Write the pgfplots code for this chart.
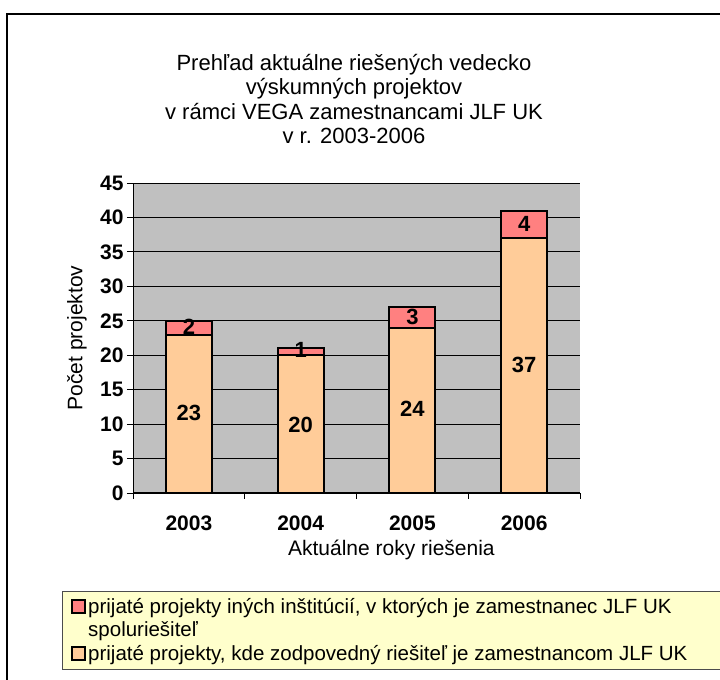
\documentclass[border=0pt]{standalone}
\usepackage{pgfplots}
\pgfplotsset{compat=1.18}
\usepackage{fontspec}
\setmainfont{Liberation Sans}
\definecolor{plotgray}{HTML}{C0C0C0}
\definecolor{barlow}{HTML}{FFCC99}
\definecolor{bartop}{HTML}{FF8080}
\definecolor{legbg}{HTML}{FFFFCC}
\newcommand{\fs}[2]{\fontsize{#1bp}{#2bp}\selectfont}
\pgfplotsset{
  common/.style={
    at={(133bp,187bp)}, anchor=south west,
    scale only axis, width=447bp, height=310bp,
    xmin=-0.5, xmax=3.5, ymin=0, ymax=45,
  }
}
\begin{document}
\begin{tikzpicture}
\begin{axis}[common,
  ybar stacked, bar width=46bp,
  axis background/.style={fill=plotgray},
  axis x line*=bottom, axis y line*=left,
  axis line style={black, line width=1bp},
  ymajorgrids, grid style={black, line width=0.8bp},
  ytick={0,5,...,45},
  xtick={-0.5,0.5,1.5,2.5,3.5}, xticklabels={},
  extra x ticks={0,1,2,3}, extra x tick labels={2003,2004,2005,2006},
  extra x tick style={major tick length=0pt, grid=none,
     xticklabel style={font=\fs{21}{24}\bfseries, yshift=-19bp}},
  tick align=outside, major tick length=6bp,
  tick style={black, line width=0.8bp},
  /pgf/number format/assume math mode=true,
  yticklabel style={font=\fs{21}{24}\bfseries},
  xlabel={Aktuálne roky riešenia},
  xlabel style={font=\fs{21}{24}, at={(axis description cs:0.578,-0.184)}, anchor=center},
  ylabel={Počet projektov},
  ylabel style={font=\fs{21}{24}, at={(axis description cs:-0.1253,0.5)}, anchor=center},
]
\addplot[fill=barlow, draw=black, line width=2bp] coordinates {(0,23) (1,20) (2,24) (3,37)};
\addplot[fill=bartop, draw=black, line width=2bp] coordinates {(0,2) (1,1) (2,3) (3,4)};
\end{axis}
\begin{axis}[common, hide axis,
  legend style={at={(-0.1588,-0.316)}, anchor=north west, fill=legbg,
    draw=gray!60!black, line width=0.8bp, font=\fs{20.5}{22},
    row sep=3bp, inner xsep=9bp, inner ysep=5bp},
  legend cell align=left,
  legend image code/.code={\draw[#1, line width=1.8bp] (0bp,-6bp) rectangle (13bp,7bp);},
]
\addplot[draw=none, forget plot, nodes near coords, nodes near coords align={center},
  point meta=explicit symbolic,
  every node near coord/.append style={font=\fs{22}{24}\bfseries, inner sep=0pt, anchor=center}]
  coordinates {(0,11.6)[23] (1,9.9)[20] (2,12.2)[24] (3,18.6)[37]
               (0,24.1)[2] (1,20.8)[1] (2,25.5)[3] (3,39.0)[4]};
\addlegendimage{fill=bartop, draw=black}
\addlegendentry{prijaté projekty iných inštitúcií, v ktorých je zamestnanec JLF UK}
\addlegendimage{empty legend}
\addlegendentry{spoluriešiteľ}
\addlegendimage{fill=barlow, draw=black}
\addlegendentry{prijaté projekty, kde zodpovedný riešiteľ je zamestnancom JLF UK\hspace*{40bp}}
\end{axis}
\node[align=center, font=\fs{22}{24.5}] at (354bp,581bp)
  {Prehľad aktuálne riešených vedecko\\výskumných projektov\\v rámci VEGA zamestnancami JLF UK\\v r. 2003-2006};
\draw[line width=1.5bp] (7bp,-20bp) -- (7bp,666bp) -- (740bp,666bp);
\pgfresetboundingbox
\path[use as bounding box] (0,0) rectangle (720bp,680bp);
\end{tikzpicture}
\end{document}
